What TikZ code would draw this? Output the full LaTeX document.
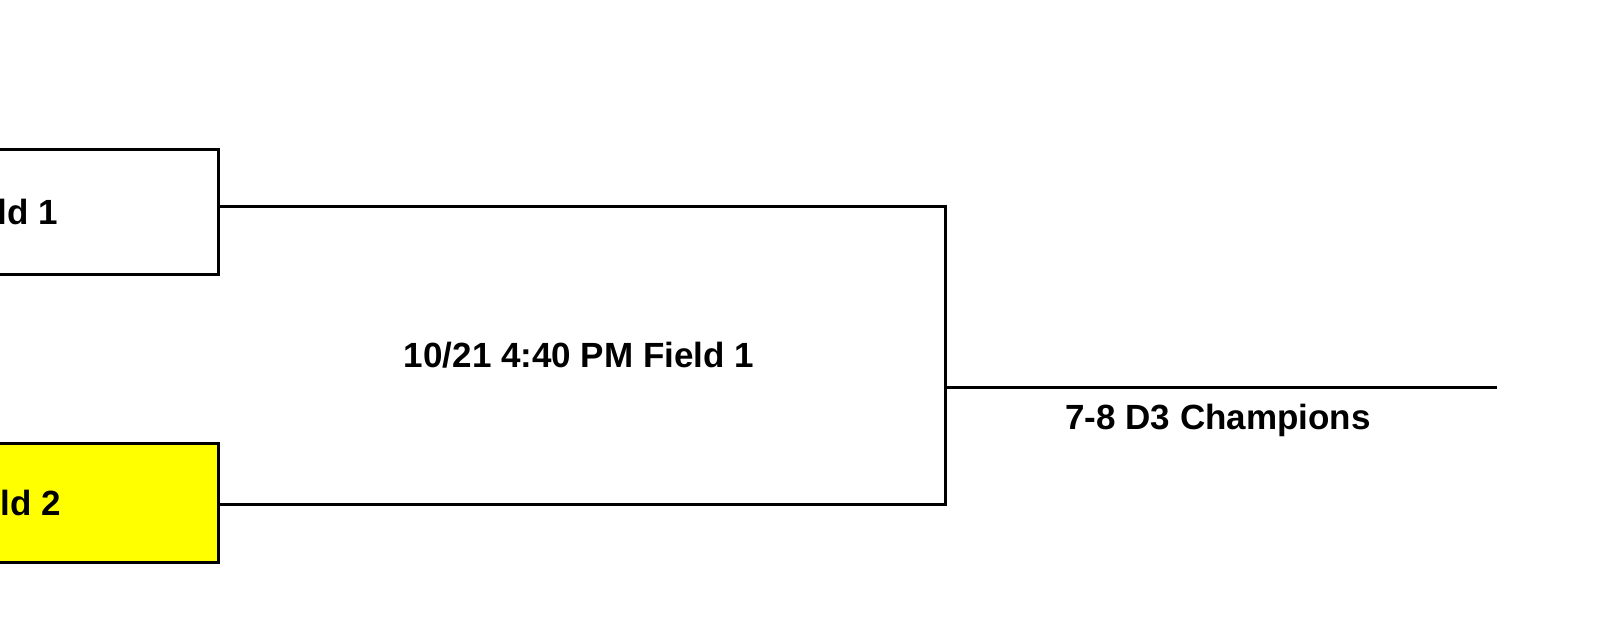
\documentclass[tikz,border=0pt]{standalone}
\usepackage{fontspec}
\setmainfont{Liberation Sans}
\definecolor{teamyellow}{RGB}{255,255,0}
\begin{document}
\begin{tikzpicture}[x=1pt,y=-1pt,
  teambox/.style={draw=black,line width=3pt,rectangle,inner sep=0pt},
  bline/.style={draw=black,line width=3pt},
  lbl/.style={font=\fontsize{35}{40}\selectfont\bfseries,inner sep=0pt}]
\useasboundingbox (0,0) rectangle (1600,623);
\clip (0,0) rectangle (1600,623);
\node[teambox,fill=white,minimum width=258pt,minimum height=125pt] (b1) at (89,211.5) {};
\node[teambox,fill=teamyellow,minimum width=258pt,minimum height=119pt] (b2) at (89,502.5) {};
\node[lbl,anchor=base east] (t1) at (58,224) {ld 1};
\node[lbl,anchor=base east] (t2) at (61,515) {ld 2};
\coordinate (vt) at (945,206);
\coordinate (vb) at (945,504);
\coordinate (j) at (945,387);
\coordinate (e) at (1497,387);
\draw[bline] ([yshift=5.5pt]b1.east) -- (vt) -- (vb) -- ([yshift=-1.5pt]b2.east);
\draw[bline] (j) -- (e);
\node[lbl,anchor=base] (game) at (579,367) {10/21 4:40 PM Field 1};
\node[lbl,anchor=base] (champ) at (1218,429) {7-8 D3 Champions};
\end{tikzpicture}
\end{document}
